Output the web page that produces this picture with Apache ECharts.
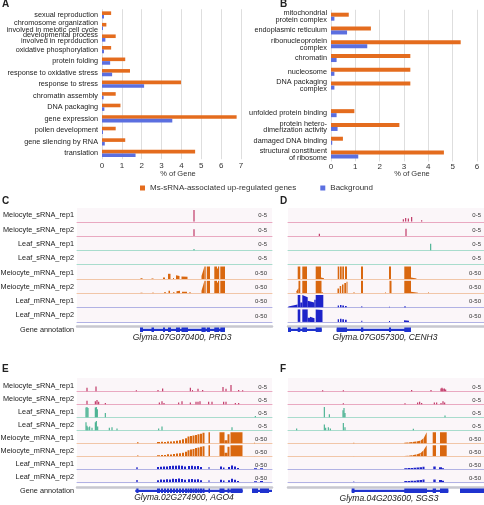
<!DOCTYPE html>
<html><head><meta charset="utf-8">
<script src="https://cdn.jsdelivr.net/npm/echarts@6/dist/echarts.min.js"></script>
<style>html,body{margin:0;padding:0;background:#fff}#c{width:484px;height:505px}</style>
</head><body><div id="c"></div>
<script>
// ---------- Panel A / B data ----------
const seriesNames = ['Ms-sRNA-associated up-regulated genes', 'Background'];
const catA = ['sexual reproduction', 'chromosome organization\ninvolved in meiotic cell cycle', 'developmental process\ninvolved in reproduction', 'oxidative phosphorylation', 'protein folding', 'response to oxidative stress', 'response to stress', 'chromatin assembly', 'DNA packaging', 'gene expression', 'pollen development', 'gene silencing by RNA', 'translation'];
const orangeA = [0.46, 0.22, 0.69, 0.46, 1.17, 1.41, 3.98, 0.69, 0.93, 6.78, 0.69, 1.17, 4.69];
const blueA = [0.10, 0.05, 0.17, 0.10, 0.41, 0.51, 2.12, 0.08, 0.12, 3.54, 0.05, 0.14, 1.69];
const catB = ['mitochondrial\nprotein complex', 'endoplasmic reticulum', 'ribonucleoprotein\ncomplex', 'chromatin', 'nucleosome', 'DNA packaging\ncomplex', '', 'unfolded protein binding', 'protein hetero-\ndimerization activity', 'damaged DNA binding', 'structural constituent\nof ribosome'];
const orangeB = [0.73, 1.64, 5.33, 3.26, 3.26, 3.26, null, 0.96, 2.81, 0.49, 4.64];
const blueB = [0.14, 0.66, 1.49, 0.23, 0.14, 0.14, null, 0.23, 0.27, 0.05, 1.12];
const axisNameAB = '% of Gene';

// ---------- Track panels ----------
const trackNames = ['Meiocyte_sRNA_rep1', 'Meiocyte_sRNA_rep2', 'Leaf_sRNA_rep1', 'Leaf_sRNA_rep2', 'Meiocyte_mRNA_rep1', 'Meiocyte_mRNA_rep2', 'Leaf_mRNA_rep1', 'Leaf_mRNA_rep2'];
const annotationName = 'Gene annotation';
const scaleLabels = ['0-5', '0-5', '0-5', '0-5', '0-50', '0-50', '0-50', '0-50'];
const trackMax = [5, 5, 5, 5, 50, 50, 50, 50];
const geneNames = ['Glyma.07G070400, PRD3', 'Glyma.07G057300, CENH3', 'Glyma.02G274900, AGO4', 'Glyma.04G203600, SGS3'];

// sRNA tracks: [position, height]; mRNA tracks: [start, end, heightStart, heightEnd]
const cMeioS1 = [[117, 4.5]];
const cMeioS2 = [[117, 2.6]];
const cLeafS1 = [[117, 0.5]];
const cLeafS2 = [];
const cMeioM1 = [[63.5,65.5,3,3],[74.5,76.5,2,2],[86,88,6,6],[91,93.5,20,20],[96,97,4,4],[99,102.5,14,12],[104.5,110.5,10,9],[124.5,127.5,12,48],[127.5,128.7,48,48],[129.8,133,48,48],[137.3,140,48,48],[140,141,40,40],[141,142.2,48,48],[143.3,148,48,48]];
const cMeioM2 = [[63.5,65.5,2,2],[75,77,2,2],[87,89,4,4],[91.5,93,10,10],[96,97.5,4,4],[99.5,103,8,10],[105,110,6,6],[112,114,3,3],[124.5,127.5,10,48],[127.5,128.7,48,48],[129.8,133,48,48],[137.3,140,48,48],[140,141,42,42],[141,142.2,48,48],[143.3,148,48,48]];
const cLeafM1 = [];
const cLeafM2 = [];
const cGene = [[63,148,0],[63,66,1],[74.5,77,1],[86,88,1],[91,94,1],[99,103,1],[104.5,111,1],[124.5,128.7,1],[129.8,133,1],[137.3,142.2,1],[143.3,148,1]];

const dMeioS1 = [[115.3,1.0],[117.7,1.5],[120.3,1.3],[123.7,1.8],[133.7,0.6]];
const dMeioS2 = [[31.3,0.9],[118,2.8]];
const dLeafS1 = [[142.7,2.6]];
const dLeafS2 = [];
const dMeioM1 = [[9.7,12.3,48,48],[14.3,19,48,48],[27.7,33,48,48],[33,36,6,3],[49.7,51.3,48,48],[52,53.7,48,48],[54.3,56,48,48],[57,59,48,48],[73,75,48,48],[101,103,48,48],[116.3,123,48,48],[123,128.5,6,2]];
const dMeioM2 = [[8.5,10.5,8,20],[10.5,12.3,48,48],[14.3,19,48,48],[27.7,33.5,48,48],[33.5,35,5,3],[49.5,51,18,18],[51.7,53.2,28,28],[54,55.5,34,34],[56.3,58,40,40],[58.5,59.5,44,44],[65.5,66.5,4,4],[73,75,48,48],[97,98,3,3],[101.5,103.5,48,48],[116.3,123,48,48],[123,130,6,2],[140,141,3,3]];
const dLeafM1 = [[0.3,5,4,8],[5,9.5,8,12],[9.7,12.3,48,48],[12.3,14.3,20,20],[14.3,19.7,48,40],[19.7,26.3,26,20],[26.3,27.7,30,30],[27.7,35.3,48,48],[49.7,51,8,8],[52,53.5,10,10],[54.3,56,8,8],[57,58.7,6,6],[73.3,74.3,5,5],[101,102,3,3],[116,118,4,4]];
const dLeafM2 = [[9.7,12.3,48,48],[14.3,19.7,48,48],[19.7,22,16,16],[22,26.5,20,14],[27.7,34.5,48,46],[49.7,51,10,10],[52,53.5,12,12],[54.3,56,10,10],[57,58.7,8,8],[73.3,74.3,4,4],[101,102,3,3],[116,121,6,4]];
const dGene = [[0,33.7,0],[0,3,1],[9.7,12.3,1],[14.3,19,1],[27.7,33.7,1],[48.7,123,0],[48.7,59,1],[73,75.3,1],[101,103,1],[116.3,123,1]];

const eMeioS1 = [[10,1.7],[19,2.2],[59.3,0.6],[81,0.7],[85.7,1.4],[113.3,1.7],[115.5,0.6],[121,1.2],[125.7,0.7],[146,2.0],[149,1.2],[154,2.9],[161.7,0.7],[165.7,0.6]];
const eMeioS2 = [[10,1.7],[18.3,1.4],[20,2.0],[21.7,1.2],[28.3,0.7],[82.3,0.9],[85,1.4],[87,0.7],[101.7,0.9],[105,1.4],[113.3,0.9],[119,1.2],[121,1.2],[123,1.4],[131.7,1.2],[135,1.2],[146.7,1.2],[149,1.2],[158.3,0.7],[161.7,0.7]];
const eLeafS1 = [[9,4.3],[10,4.6],[11,4.1],[18.3,4.3],[19.3,4.6],[20.3,3.6],[28.3,2.0],[178.3,0.7]];
const eLeafS2 = [[9,3.6],[10,2.0],[11,1.4],[12.7,1.7],[15,1.2],[18.3,3.6],[19.3,4.1],[20.7,1.7],[32.3,1.2],[35,1.4],[40,0.9],[81.7,0.9],[85,1.7],[155,1.4]];
const eMeioM1 = [[60,61.5,5,5],[80,83,6,6],[84,86,7,7],[87,89,6,6],[90,92,8,8],[93,95,8,8],[96,98,9,9],[99,101,12,12],[102,104,14,14],[105,107,18,18],[108,110,22,22],[110.5,112.5,30,30],[113,115,32,32],[115.5,117.5,34,34],[118,120,36,36],[120.5,122.5,40,40],[123,125,42,42],[125.5,127.5,46,46],[131.5,133,48,48],[142.5,147.5,48,48],[147.5,150.5,14,14],[150.5,152.5,40,40],[153.5,165.5,48,48],[177,178,3,3]];
const eMeioM2 = [[60,61.5,4,4],[80,83,5,5],[84,86,6,6],[87,89,6,6],[90,92,9,9],[93,95,8,8],[96,98,10,10],[99,101,12,12],[102,104,14,14],[105,107,16,16],[108,110,20,20],[110.5,112.5,26,26],[113,115,30,30],[115.5,117.5,32,32],[118,120,36,36],[120.5,122.5,38,38],[123,125,42,42],[125.5,127.5,44,44],[131.5,133,48,48],[142.5,147.5,48,48],[147.5,150.5,16,16],[150.5,152.5,42,42],[153.5,165.5,48,48],[177,178,2,2]];
const eLeafM1 = [[59.3,60.7,9,9],[80,82,10,10],[83,85,11,11],[86,88,12,12],[89,91,12,12],[92,94,14,14],[95,97,15,15],[98,100,15,15],[101,103,16,16],[104,106,15,15],[107,109,12,12],[111,113,14,14],[114,116,15,15],[117,119,13,13],[120,122,14,14],[123,125,10,10],[131.5,132.5,10,10],[143,145,12,12],[146,147.5,8,8],[151,153,10,10],[154,156,16,16],[157,159,12,12],[160,162,6,6],[177,180,5,5],[183,186,5,5]];
const eLeafM2 = [[59.3,60.7,10,10],[80,82,9,9],[83,85,12,12],[86,88,11,11],[89,91,13,13],[92,94,12,12],[95,97,15,15],[98,100,14,14],[101,103,16,16],[104,106,14,14],[107,109,11,11],[111,113,13,13],[114,116,14,14],[117,119,12,12],[120,122,13,13],[123,125,9,9],[131.5,132.5,9,9],[143,145,11,11],[146,147.5,8,8],[151,153,9,9],[154,156,15,15],[157,159,11,11],[160,162,5,5],[177,180,4,4],[183,186,5,5]];
const eGene = [[58.3,165.7,0],[59.3,61.5,1],[80,83,1],[84,86,1],[87,89,1],[90,92,1],[93,95,1],[96,98,1],[99,101,1],[102,104,1],[105,107,1],[108,110,1],[110.5,112.5,1],[113,115,1],[115.5,117.5,1],[118,120,1],[120.5,122.5,1],[123,125,1],[125.5,127.5,1],[131.5,133,1],[142.5,147.5,1],[150.5,152.5,1],[153.5,165.5,1],[175,195,0],[175,181,1],[183,192,1]];

const fMeioS1 = [[34.7,0.6],[55.3,0.6],[123.7,0.7],[143,0.7],[153,1.4],[154,1.7],[155,1.2],[156.3,1.4],[157.7,0.9]];
const fMeioS2 = [[55.3,0.6],[117,0.6],[129.7,0.9],[131.7,1.2],[133.7,0.7],[146.3,0.9],[148.7,0.9],[153,0.7],[155,1.4],[156.7,0.9]];
const fLeafS1 = [[36.3,4.6],[41.3,1.4],[55,3.2],[56,4.1],[57,2.0],[157,0.9]];
const fLeafS2 = [[8.7,0.9],[36.3,2.6],[37.7,1.2],[40.3,1.4],[42.3,0.9],[55.3,3.2],[57,1.4],[125.3,0.7]];
const fMeioM1 = [[65.3,66.3,3,3],[116.3,120,3,4],[120.5,124,4,6],[124.5,128,6,8],[128.5,132,8,12],[132.5,135.5,12,22],[135.8,138.7,24,48],[144.7,148,48,48],[152,158.7,48,48]];
const fMeioM2 = [[65.3,66.3,2,2],[116.3,120,2,3],[120.5,124,3,5],[124.5,128,5,8],[128.5,132,8,14],[132.5,135.5,14,26],[135.8,138.7,28,48],[144.7,148,48,48],[152,158.7,48,48]];
const fLeafM1 = [[116.3,119,5,5],[119.5,122,6,6],[122.5,125,6,6],[125.5,128,7,7],[128.5,131,8,8],[131.5,134,9,9],[134.5,136.5,11,11],[145.3,147.7,12,12],[151,154,9,9],[154,156,5,5]];
const fLeafM2 = [[65.3,66.3,3,3],[116.3,119,5,5],[119.5,122,5,5],[122.5,125,7,7],[125.5,128,7,7],[128.5,131,9,9],[131.5,134,10,10],[134.5,136.5,12,12],[145.3,147.7,12,12],[151,154,10,10],[154,156,6,6]];
const fGene = [[63.7,160.3,0],[63.7,66.5,1],[116.3,139,1],[144.7,148,1],[152,160.3,1],[172,196,0],[172,196,1]];

// ---------- styling / layout ----------
const FONT = '"Liberation Sans", Arial, Helvetica, sans-serif';
const ORANGE = '#E46C1E', BLUE = '#5B6FE0';
const markColors = ['#b5154c','#b5154c','#2fa882','#2fa882','#d9670f','#d9670f','#1d22c9','#1d22c9'];
const lineColors = ['#e9a9c1','#e9a9c1','#a9dccd','#a9dccd','#f1c6a8','#f1c6a8','#b1b2e4','#b1b2e4'];
const GENE_BLUE = '#1f33cf';
// vertical nudges for two adjacent two-line labels in panel A (label styling only)
const labelPadA = {1:[0,0,3,0], 2:[3,0,0,0]};

const panels = [
  {letter:'C', lx:2, ly:198, left:77, width:195, base:221.8, step:14.3, h:13, scaleX:267, scaleDy:-6, names:true, tracks:[cMeioS1,cMeioS2,cLeafS1,cLeafS2,cMeioM1,cMeioM2,cLeafM1,cLeafM2], gene:cGene, name:geneNames[0], nameX:182, nameY:338, annTop:326.3, bgTop:208, bgBot:323},
  {letter:'D', lx:280, ly:198, left:288, width:196, base:221.8, step:14.3, h:13, scaleX:481, scaleDy:-6, names:false, tracks:[dMeioS1,dMeioS2,dLeafS1,dLeafS2,dMeioM1,dMeioM2,dLeafM1,dLeafM2], gene:dGene, name:geneNames[1], nameX:385, nameY:338, annTop:326.3, bgTop:208, bgBot:323},
  {letter:'E', lx:2, ly:366, left:77, width:195, base:391.6, step:12.95, h:11.5, scaleX:267, scaleDy:-4, names:true, tracks:[eMeioS1,eMeioS2,eLeafS1,eLeafS2,eMeioM1,eMeioM2,eLeafM1,eLeafM2], gene:eGene, name:geneNames[2], nameX:184, nameY:498, annTop:487.3, bgTop:378, bgBot:483.5},
  {letter:'F', lx:280, ly:366, left:288, width:196, base:391.6, step:12.95, h:11.5, scaleX:481, scaleDy:-4, names:false, tracks:[fMeioS1,fMeioS2,fLeafS1,fLeafS2,fMeioM1,fMeioM2,fLeafM1,fLeafM2], gene:fGene, name:geneNames[3], nameX:389, nameY:498.5, annTop:487.3, bgTop:378, bgBot:483.5}
];

function spikeRenderer(color) {
  return function (params, api) {
    const p = api.coord([api.value(0), 0]);
    const q = api.coord([api.value(0), api.value(1)]);
    return {type:'rect', shape:{x:p[0]-0.5, y:q[1], width:1, height:p[1]-q[1]}, style:{fill:color}};
  };
}
function blockRenderer(color) {
  return function (params, api) {
    const s = api.value(0), e = api.value(1);
    const a = api.coord([s, 0]), b = api.coord([s, api.value(2)]);
    const c = api.coord([e, api.value(3)]), d = api.coord([e, 0]);
    if (d[0] - a[0] < 1) { d[0] = a[0] + 1; c[0] = a[0] + 1; }
    return {type:'polygon', shape:{points:[a,b,c,d]}, style:{fill:color}};
  };
}
function geneRenderer(params, api) {
  const a = api.coord([api.value(0), 0.5]);
  const b = api.coord([api.value(1), 0.5]);
  const th = api.value(2) === 1 ? 4.5 : 2.2;
  return {type:'rect', shape:{x:a[0], y:a[1]-th/2, width:Math.max(1, b[0]-a[0]), height:th}, style:{fill:GENE_BLUE}};
}

const grids = [], xAxes = [], yAxes = [], series = [], graphics = [];
const txt = (text, x, y, o) => Object.assign({type:'text', x:x, y:y, silent:true, style:Object.assign({text:text, fill:'#222', font:'8px ' + FONT, align:'left', verticalAlign:'middle'}, o || {})});

// Panel A
grids.push({left:102, top:9.2, width:139, height:150});
xAxes.push({type:'value', gridIndex:0, min:0, max:7, interval:1, axisLine:{show:false}, axisTick:{show:false},
  splitLine:{show:true, lineStyle:{color:'#d6d6d6', width:0.8}}, axisLabel:{fontSize:8, color:'#333', margin:3, fontFamily:FONT}});
yAxes.push({type:'category', gridIndex:0, inverse:true, axisLine:{show:false}, axisTick:{show:false},
  data:catA.map((c, i) => labelPadA[i] ? {value:c, textStyle:{padding:labelPadA[i]}} : c),
  axisLabel:{interval:0, hideOverlap:false, fontSize:7.3, color:'#222', margin:4, lineHeight:6.6, fontFamily:FONT}});
series.push({type:'bar', name:seriesNames[0], xAxisIndex:0, yAxisIndex:0, data:orangeA, barWidth:3.6, barGap:'0%', itemStyle:{color:ORANGE}});
series.push({type:'bar', name:seriesNames[1], xAxisIndex:0, yAxisIndex:0, data:blueA, barWidth:3.6, barGap:'0%', itemStyle:{color:BLUE}});
// Panel B
grids.push({left:331, top:9.8, width:146, height:151.6});
xAxes.push({type:'value', gridIndex:1, min:0, max:6, interval:1, axisLine:{show:false}, axisTick:{show:false},
  splitLine:{show:true, lineStyle:{color:'#d6d6d6', width:0.8}}, axisLabel:{fontSize:8, color:'#333', margin:1, fontFamily:FONT}});
yAxes.push({type:'category', gridIndex:1, data:catB, inverse:true, axisLine:{show:false}, axisTick:{show:false},
  axisLabel:{interval:0, hideOverlap:false, fontSize:7.3, color:'#222', margin:4, lineHeight:6.6, fontFamily:FONT}});
series.push({type:'bar', name:seriesNames[0], xAxisIndex:1, yAxisIndex:1, data:orangeB, barWidth:4, barGap:'0%', itemStyle:{color:ORANGE}});
series.push({type:'bar', name:seriesNames[1], xAxisIndex:1, yAxisIndex:1, data:blueB, barWidth:4, barGap:'0%', itemStyle:{color:BLUE}});

graphics.push(txt('A', 2, 4, {font:'bold 10px ' + FONT}));
graphics.push(txt('B', 280, 4, {font:'bold 10px ' + FONT}));
graphics.push(txt(axisNameAB, 178, 174, {align:'center', font:'7.5px ' + FONT, fill:'#333'}));
graphics.push(txt(axisNameAB, 412, 174, {align:'center', font:'7.5px ' + FONT, fill:'#333'}));

// Track panels
panels.forEach(function (P) {
  graphics.push({type:'rect', z:-5, silent:true, shape:{x:P.left, y:P.bgTop, width:P.width, height:P.bgBot-P.bgTop}, style:{fill:'#fbf6f9'}});
  graphics.push(txt(P.letter, P.lx, P.ly + 3.5, {font:'bold 10px ' + FONT}));
  P.tracks.forEach(function (data, i) {
    const gi = grids.length;
    const base = P.base + i * P.step;
    grids.push({left:P.left, top:base - P.h, width:P.width, height:P.h});
    xAxes.push({type:'value', gridIndex:gi, min:0, max:P.width, show:true, axisLine:{show:true, onZero:false, lineStyle:{color:lineColors[i], width:1}},
      axisTick:{show:false}, axisLabel:{show:false}, splitLine:{show:false}});
    yAxes.push({type:'value', gridIndex:gi, min:0, max:trackMax[i], show:false});
    const isS = i < 4;
    series.push({type:'custom', xAxisIndex:gi, yAxisIndex:gi, data:data, silent:true, clip:true,
      encode: isS ? {x:0, y:1} : {x:[0,1], y:[2,3]},
      renderItem: isS ? spikeRenderer(markColors[i]) : blockRenderer(markColors[i])});
    graphics.push(txt(scaleLabels[i], P.scaleX, base + P.scaleDy, {align:'right', font:'6px ' + FONT, fill:'#333'}));
    if (P.names) graphics.push(txt(trackNames[i], 74, base - P.h / 2, {align:'right', font:'7.3px ' + FONT}));
  });
  const ga = grids.length;
  grids.push({left:P.left, top:P.annTop, width:P.width, height:7});
  xAxes.push({type:'value', gridIndex:ga, min:0, max:P.width, position:'top', axisLine:{show:true, onZero:false, lineStyle:{color:'#c8c8d0', width:2.5}},
    axisTick:{show:false}, axisLabel:{show:false}, splitLine:{show:false}});
  yAxes.push({type:'value', gridIndex:ga, min:0, max:1, show:false});
  series.push({type:'custom', xAxisIndex:ga, yAxisIndex:ga, data:P.gene, silent:true, clip:true, encode:{x:[0,1]}, renderItem:geneRenderer});
  if (P.names) graphics.push(txt(annotationName, 74, P.annTop + 4, {align:'right', font:'7.3px ' + FONT}));
  graphics.push(txt(P.name, P.nameX, P.nameY, {align:'center', font:'italic 8.5px ' + FONT}));
});

const chart = echarts.init(document.getElementById('c'), null, {renderer:'canvas'});
chart.setOption({
  animation:false,
  backgroundColor:'#ffffff',
  legend:{data:seriesNames, left:140, top:184, padding:0, icon:'rect', itemWidth:5, itemHeight:5, itemGap:24,
    textStyle:{fontSize:8, color:'#333', fontFamily:FONT}, selectedMode:false},
  grid:grids, xAxis:xAxes, yAxis:yAxes, series:series,
  graphic:{elements:graphics}
});
</script></body></html>
